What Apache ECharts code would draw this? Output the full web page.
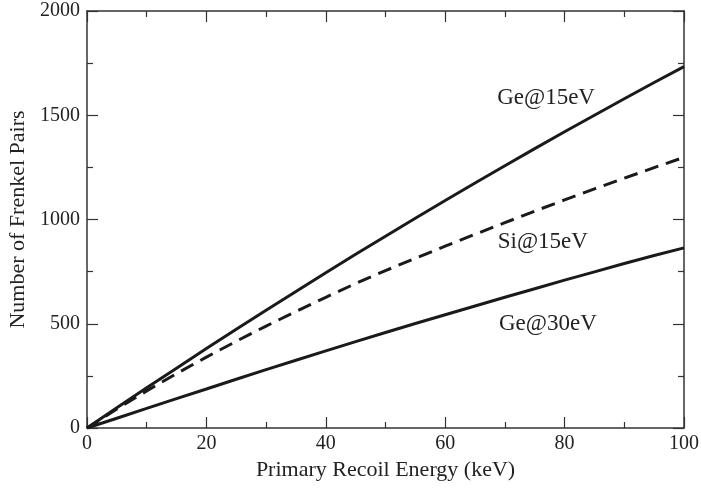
<!DOCTYPE html>
<html>
<head>
<meta charset="utf-8">
<script src="https://cdn.jsdelivr.net/npm/echarts@6/dist/echarts.min.js"></script>
<style>html,body{margin:0;padding:0;background:#fff;}#c{width:701px;height:488px;}</style>
</head>
<body>
<div id="c"></div>
<script>
var energy = [0,5,10,15,20,25,30,35,40,45,50,55,60,65,70,75,80,85,90,95,100];
var ge15 = [0,97,193,287,381,474,565,655,745,833,920,1006,1091,1175,1258,1340,1421,1500,1579,1657,1733];
var si15 = [0,91,178,261,340,416,489,559,627,693,755,814,872,929,985,1040,1094,1147,1198,1249,1298];
var ge30 = [0,47,94,141,187,234,280,325,370,414,458,501,543,585,627,668,709,749,789,827,864];
var xTicks = [0,20,40,60,80,100];
var yTicks = [0,500,1000,1500,2000];
var curveLabels = ['Ge@15eV','Si@15eV','Ge@30eV'];

function pairs(ys){ return energy.map(function(x,i){ return [x, ys[i]]; }); }
var FONT = 'Liberation Serif';
var INK = '#1a1a1a';

function lbl(text, x, y){
  return {
    symbol: 'circle', symbolSize: 0,
    data: [{coord: [x, y], value: text}],
    label: {show: true, position: 'right', distance: 0, formatter: text,
      fontFamily: FONT, fontSize: 23, color: '#222'}
  };
}

var axisCommon = {
  type: 'value',
  axisLine: {show: true, onZero: false, lineStyle: {color: '#333', width: 1.5}},
  axisTick: {show: true, inside: true, length: 11, lineStyle: {color: '#333', width: 1.2}},
  minorTick: {show: true, splitNumber: 2, length: 6, lineStyle: {color: '#333', width: 1.2}},
  splitLine: {show: false}
};

var chart = echarts.init(document.getElementById('c'), null, {renderer: 'canvas'});
chart.setOption({
  backgroundColor: '#fff',
  animation: false,
  grid: {left: 87, right: 17, top: 11, bottom: 60, containLabel: false, outerBoundsMode: 'none'},
  xAxis: [
    Object.assign({}, axisCommon, {
      min: 0, max: 100, interval: 20, position: 'bottom',
      name: 'Primary Recoil Energy (keV)', nameLocation: 'middle', nameGap: 30,
      nameTextStyle: {fontFamily: FONT, fontSize: 22, color: '#222'},
      axisLabel: {show: true, margin: 6, fontFamily: FONT, fontSize: 20, color: '#222',
        formatter: function(v){ return xTicks.indexOf(v) >= 0 ? String(v) : ''; }}
    }),
    Object.assign({}, axisCommon, {
      min: 0, max: 100, interval: 20, position: 'top', axisLabel: {show: false}
    })
  ],
  yAxis: [
    Object.assign({}, axisCommon, {
      min: 0, max: 2000, interval: 500, position: 'left',
      name: 'Number of Frenkel Pairs', nameLocation: 'middle', nameGap: 55,
      nameTextStyle: {fontFamily: FONT, fontSize: 22, color: '#222'},
      axisLabel: {show: true, margin: 7, fontFamily: FONT, fontSize: 20, color: '#222',
        formatter: function(v){ return yTicks.indexOf(v) >= 0 ? String(v) : ''; }}
    }),
    Object.assign({}, axisCommon, {
      min: 0, max: 2000, interval: 500, position: 'right', axisLabel: {show: false}
    })
  ],
  series: [
    {type: 'line', name: curveLabels[0], data: pairs(ge15), showSymbol: false, symbol: 'none',
      lineStyle: {color: INK, width: 3}, markPoint: lbl(curveLabels[0], 68.7, 1583)},
    {type: 'line', name: curveLabels[1], data: pairs(si15), showSymbol: false, symbol: 'none',
      lineStyle: {color: INK, width: 3, type: [14, 8]}, markPoint: lbl(curveLabels[1], 68.8, 891)},
    {type: 'line', name: curveLabels[2], data: pairs(ge30), showSymbol: false, symbol: 'none',
      lineStyle: {color: INK, width: 3}, markPoint: lbl(curveLabels[2], 69.0, 501)}
  ]
});
</script>
</body>
</html>
